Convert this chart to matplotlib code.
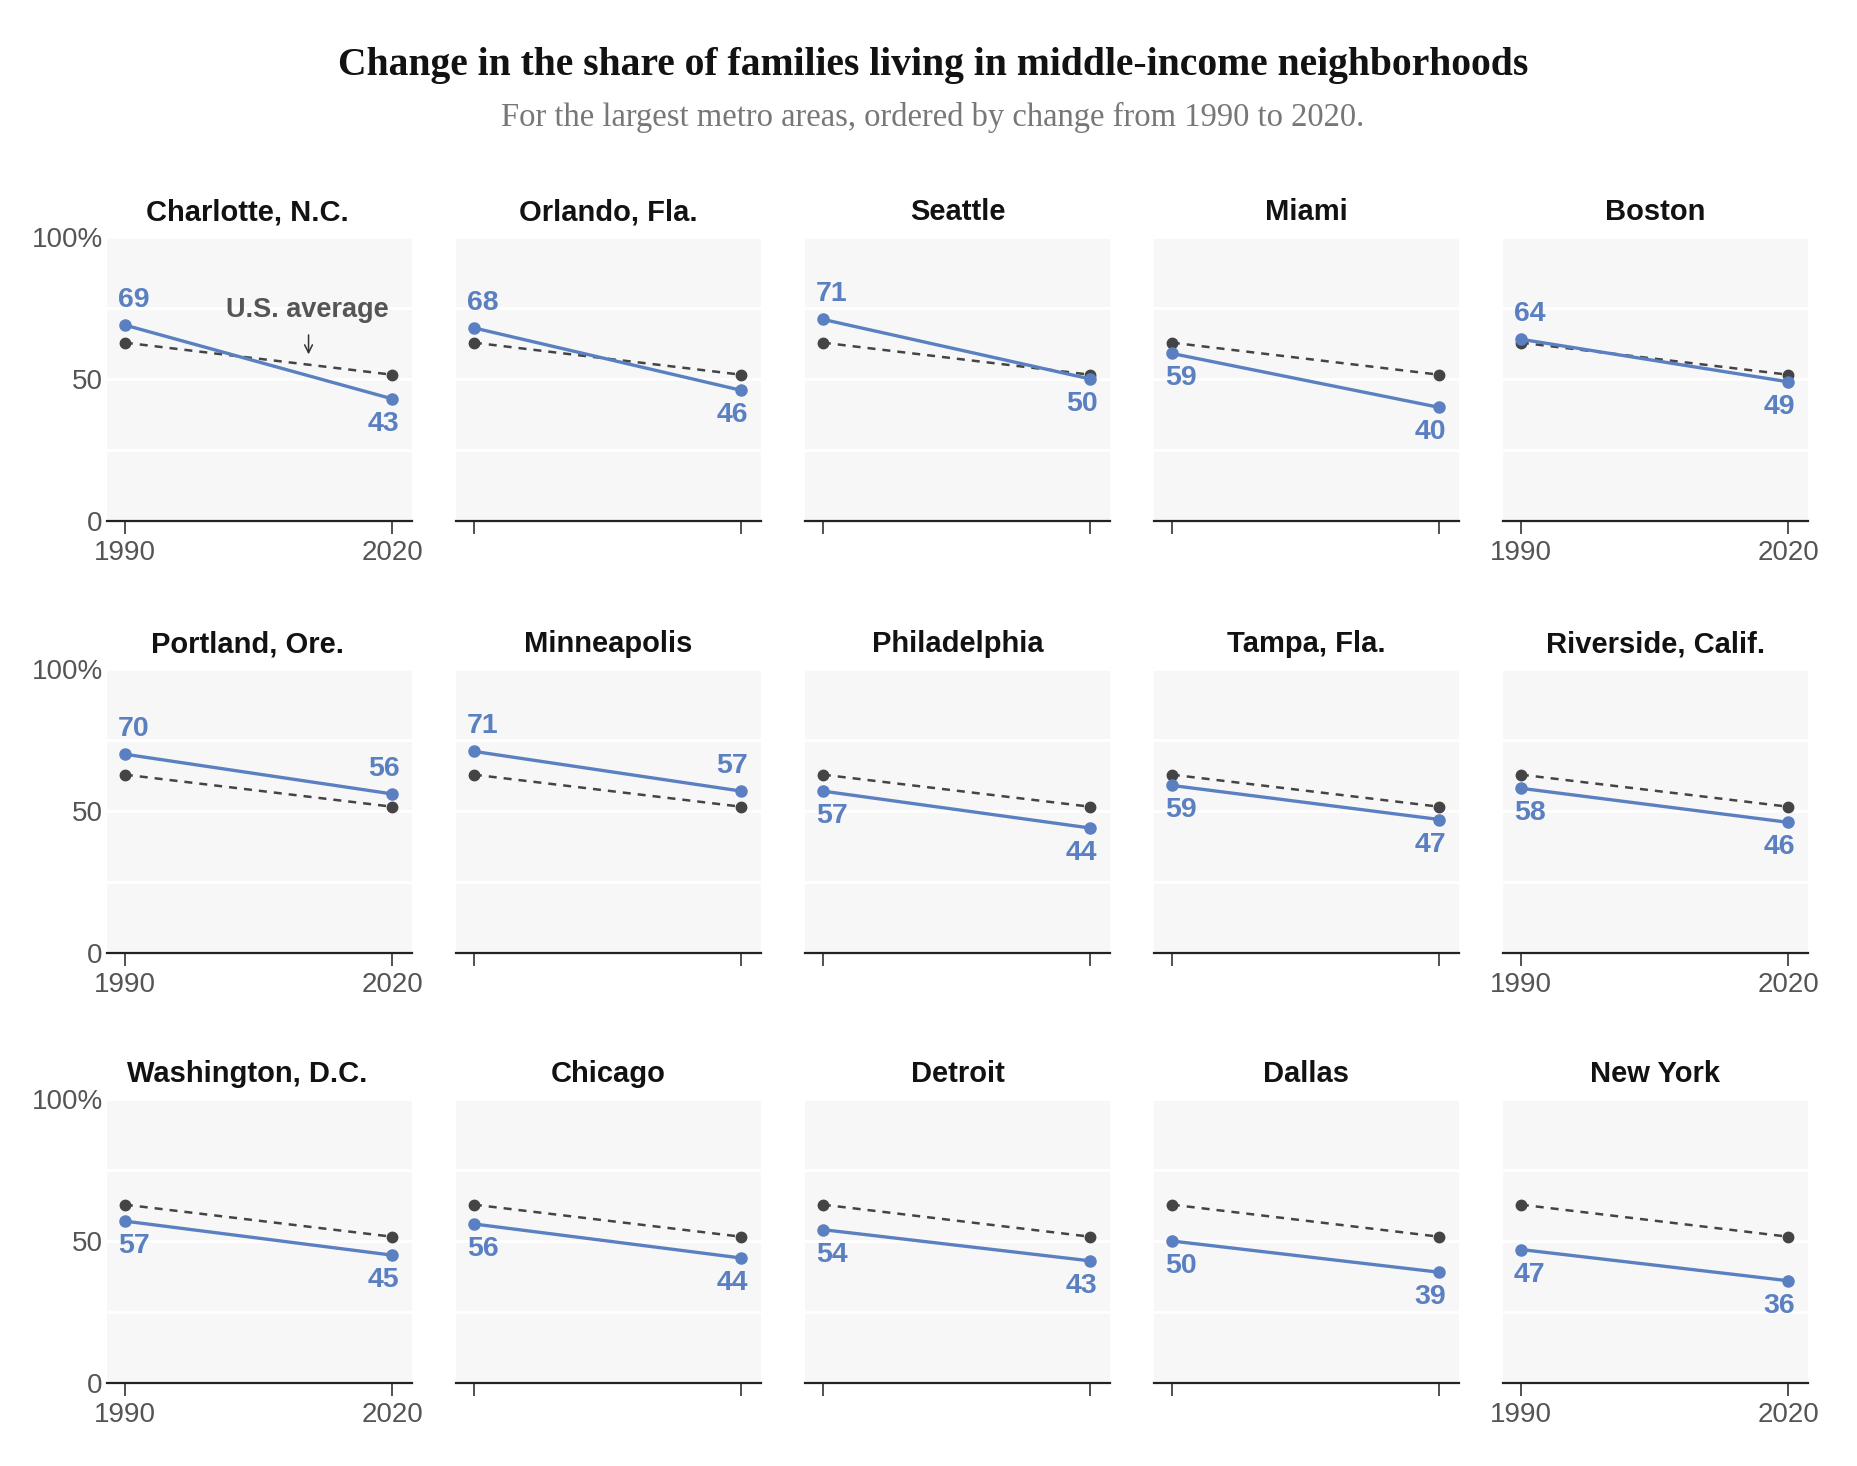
import matplotlib
matplotlib.use("Agg")
import matplotlib.pyplot as plt
from matplotlib import font_manager

# data
cities = ["Charlotte, N.C.", "Orlando, Fla.", "Seattle", "Miami", "Boston",
          "Portland, Ore.", "Minneapolis", "Philadelphia", "Tampa, Fla.", "Riverside, Calif.",
          "Washington, D.C.", "Chicago", "Detroit", "Dallas", "New York"]
share_1990 = [69, 68, 71, 59, 64, 70, 71, 57, 59, 58, 57, 56, 54, 50, 47]
share_2020 = [43, 46, 50, 40, 49, 56, 57, 44, 47, 46, 45, 44, 43, 39, 36]
years = [1990, 2020]
us_avg = [62.8, 51.5]
yticks = [0, 25, 50, 75, 100]
ytick_labels = ["0", "", "50", "", "100%"]

BLUE = "#5b80c1"
GRAY = "#444444"


def pick(names):
    for n in names:
        try:
            font_manager.findfont(font_manager.FontProperties(family=n), fallback_to_default=False)
            return n
        except Exception:
            pass
    return "DejaVu Sans"


sans = pick(["Liberation Sans", "Roboto", "DejaVu Sans"])
serif = pick(["Liberation Serif", "DejaVu Serif"])

W, H = 1858, 1466
fig = plt.figure(figsize=(W / 100, H / 100), dpi=100)

fig.text(0.502, 1 - 65 / H, "Change in the share of families living in middle-income neighborhoods",
         ha="center", va="center", fontsize=28.5, fontweight="bold", family=serif, color="#121212")
fig.text(0.502, 1 - 117 / H, "For the largest metro areas, ordered by change from 1990 to 2020.",
         ha="center", va="center", fontsize=23.5, family=serif, color="#777777")

ax_w, ax_h = 305, 284
lefts = [107 + 349 * c for c in range(5)]
bottoms = [521, 953, 1383]

for i, city in enumerate(cities):
    r, c = divmod(i, 5)
    ax = fig.add_axes([lefts[c] / W, 1 - bottoms[r] / H, ax_w / W, ax_h / H])
    ax.set_facecolor("#f7f7f7")
    ax.set_xlim(1988, 2022.2)
    ax.set_ylim(0, 100)
    for s in ["top", "left", "right"]:
        ax.spines[s].set_visible(False)
    ax.spines["bottom"].set_linewidth(1.6)
    ax.spines["bottom"].set_color("#222222")
    ax.set_yticks(yticks)
    ax.grid(axis="y", color="white", lw=2)
    ax.set_axisbelow(True)
    ax.tick_params(axis="y", length=0, pad=3, labelsize=20, labelcolor="#555555")
    ax.tick_params(axis="x", length=9.5, width=1.2, color="#333333", pad=4,
                   labelsize=20, labelcolor="#555555")
    ax.set_xticks(years)
    if c == 0:
        ax.set_yticklabels(ytick_labels, family=sans)
    else:
        ax.set_yticklabels([])
    if c in (0, 4):
        ax.set_xticklabels([str(y) for y in years], family=sans)
    else:
        ax.set_xticklabels([])

    ax.plot(years, us_avg, color=GRAY, lw=1.8, ls=(0, (3.2, 2.8)), marker="o", ms=7.5, zorder=3)
    vals = [share_1990[i], share_2020[i]]
    ax.plot(years, vals, color=BLUE, lw=2.4, marker="o", ms=8, zorder=4)

    for k, (yr, v) in enumerate(zip(years, vals)):
        dy = 18 if v > us_avg[k] else -18
        dx = -5 if k == 0 else 5
        ax.annotate(str(v), (yr, v), xytext=(dx, dy), textcoords="offset points",
                    ha="left" if k == 0 else "right", va="center", fontsize=20.5,
                    fontweight="bold", family=sans, color=BLUE)

    tx = 0.46 if c == 0 else 0.5
    ax.text(tx, 1.088, city, transform=ax.transAxes, ha="center", va="center",
            fontsize=21, fontweight="bold", family=sans, color="#121212")

    if i == 0:
        ax.annotate("", xy=(2010.6, 57.7), xytext=(2010.6, 66.5),
                    arrowprops=dict(arrowstyle="->", lw=1.1, color="#333333", mutation_scale=14))
        ax.text(2010.5, 74.3, "U.S. average", ha="center", va="center", fontsize=19.5,
                fontweight="bold", family=sans, color="#555555")

fig.savefig("out.png", dpi=100)
